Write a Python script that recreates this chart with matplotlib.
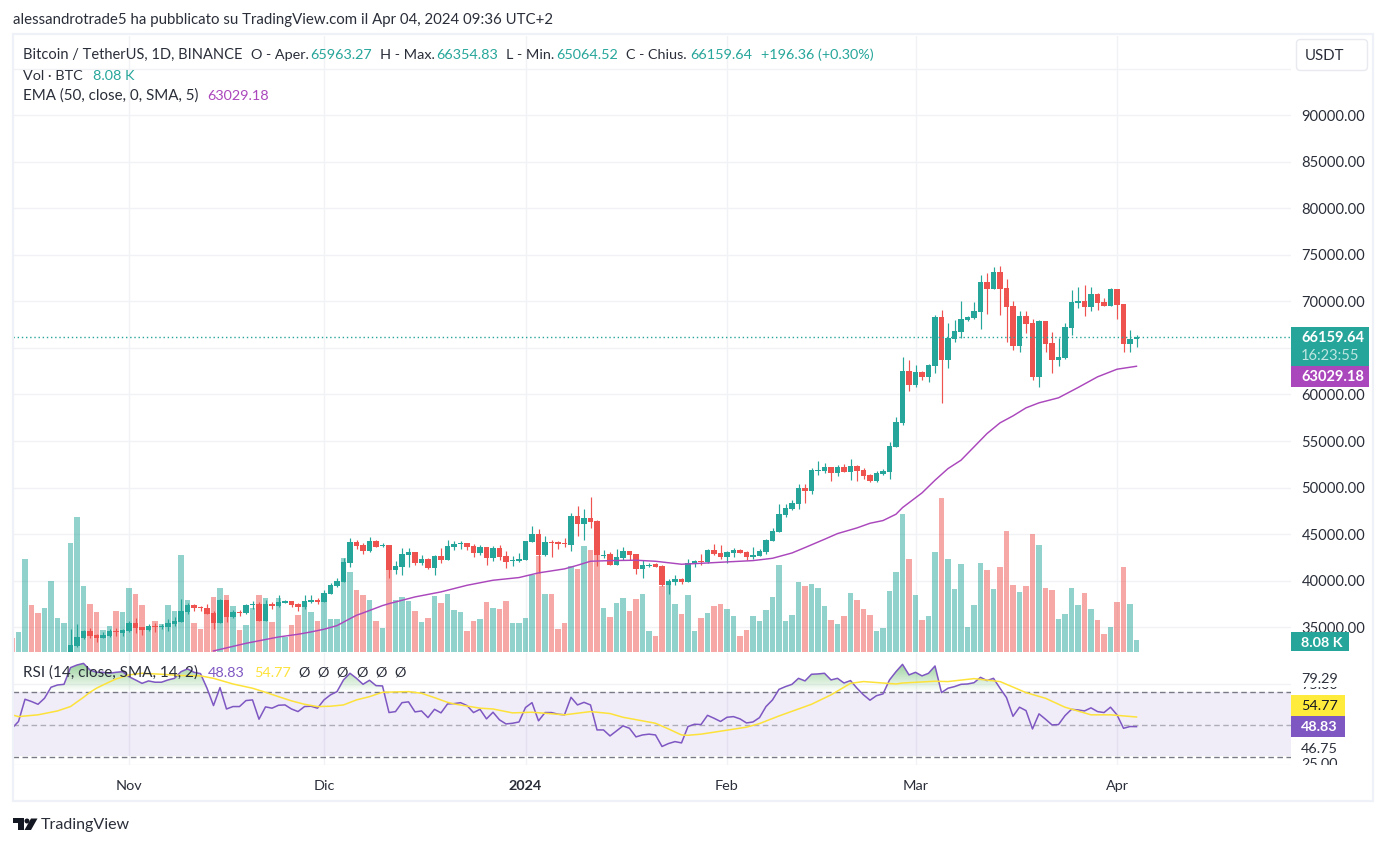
#!/usr/bin/python
import numpy as np
import matplotlib
matplotlib.use('Agg')
import matplotlib.pyplot as plt
from matplotlib.patches import Rectangle, FancyBboxPatch, Polygon
from matplotlib.path import Path

W, H = 1386, 846
plt.rcParams['font.family'] = ['Lato', 'DejaVu Sans']

# days counted from Nov 1 2023
vol_days = np.arange(-18, 156)
candle_days = np.arange(-9, 156)
month_days = [0, 30, 61, 92, 121, 152]
month_labels = ['Nov', 'Dic', '2024', 'Feb', 'Mar', 'Apr']

opens = [31810, 32960, 33820, 34570, 34140, 33820, 34030, 34610, 34360,
         34570, 35430, 35000, 34680, 35140, 35000, 35000, 35320, 35540, 36610,
         37360, 37190, 37040, 36510, 35430, 37900, 36080, 36650, 36510, 37360,
         37470, 35650, 37470, 37260, 37650, 37790, 37470, 37150, 37760, 37900,
         37690, 38550, 39410, 39840, 41880, 44130, 43810, 43170, 44240, 43740,
         43810, 41120, 41450, 42740, 43060, 41880, 42310, 41340, 42630, 42200,
         43600, 43950, 44030, 43700, 42950, 43600, 42410, 43490, 42630, 42090,
         42090, 42200, 44130, 44990, 42740, 44130, 44170, 44060, 43810, 46930,
         46070, 46710, 46390, 42700, 42840, 41660, 42410, 43170, 42840, 41230,
         41630, 41770, 41550, 39510, 39840, 40160, 39840, 41770, 42090, 41980,
         43270, 42950, 42520, 42950, 43270, 43060, 42520, 42630, 43060, 44240,
         45200, 47030, 47680, 48210, 49930, 49610, 51790, 51760, 52190, 51540,
         52190, 51650, 52300, 51870, 51330, 50680, 51440, 51650, 54340, 56910,
         62500, 61000, 62390, 61850, 63040, 68300, 63680, 65940, 66690, 67980,
         68190, 68840, 72060, 71310, 73130, 71420, 69480, 65190, 68410, 67660,
         61850, 67870, 65510, 63680, 63900, 67120, 69800, 70020, 69370, 70770,
         69910, 69480, 71310, 69700, 65400, 65963.27]
highs = [34790, 35320, 34680, 34890, 34250, 34460, 34790, 34890, 34790,
         35650, 35970, 35000, 35320, 35430, 35320, 35860, 36080, 38010, 37580,
         37470, 37260, 37470, 36720, 38010, 37900, 36830, 36830, 37470, 37790,
         37690, 37900, 37690, 38440, 37900, 37790, 37580, 38440, 38440, 38120,
         38980, 39730, 40270, 42410, 44560, 44350, 44030, 44670, 44350, 44030,
         43810, 42090, 43490, 43490, 43060, 42740, 42410, 42740, 43490, 44350,
         44240, 44240, 44030, 43920, 43810, 43600, 43700, 43810, 43170, 42630,
         42950, 44240, 45850, 45530, 44780, 44350, 44240, 44560, 47250, 48000,
         47680, 48970, 46500, 43270, 43060, 43380, 43600, 43170, 42840, 42200,
         41880, 41880, 41660, 40160, 40590, 40270, 42310, 42200, 42840, 43380,
         43920, 43810, 43160, 43490, 43380, 43160, 43590, 43380, 44450, 45630,
         48210, 48210, 48640, 50360, 50360, 52080, 52830, 52620, 52190, 52400,
         52510, 53050, 52400, 52080, 51440, 51760, 51970, 54870, 57560, 64000,
         63680, 63140, 62500, 63250, 68520, 69050, 67660, 67980, 70020, 68410,
         69910, 72810, 73030, 73670, 73780, 72380, 70020, 68950, 68950, 68090,
         67980, 67870, 66690, 66040, 67660, 71200, 71520, 71740, 71520, 70880,
         70340, 71420, 71310, 69700, 66900, 66354.83]
lows = [31640, 32850, 33710, 33820, 33390, 33820, 33930, 34030, 34030,
        34460, 34360, 34140, 34570, 34460, 34790, 34570, 35110, 35540, 36400,
        36720, 36720, 36400, 34790, 35430, 35540, 35970, 36180, 36400, 36940,
        35650, 35650, 36940, 37150, 37580, 37150, 36720, 36940, 37580, 37470,
        37690, 38550, 39300, 39840, 41450, 43380, 42840, 43060, 43600, 43600,
        40270, 40700, 40590, 41450, 41660, 41660, 41230, 40590, 41880, 42200,
        43270, 43380, 43270, 42520, 42740, 41660, 42090, 42200, 41340, 41550,
        41980, 42200, 44130, 40800, 42630, 42520, 43380, 43600, 43170, 44780,
        44350, 45640, 41550, 42410, 41660, 41660, 42200, 42200, 40700, 40270,
        41450, 41450, 39410, 38550, 39510, 39620, 39840, 41440, 41660, 41870,
        42730, 42300, 41870, 42520, 42950, 42200, 42300, 42630, 42840, 44240,
        45200, 46820, 47570, 47680, 48320, 49290, 51330, 51540, 50680, 51220,
        51650, 50790, 50680, 50910, 50580, 50580, 51330, 50900, 54340, 56700,
        60350, 60780, 61530, 61320, 62280, 59060, 62820, 65610, 66040, 67870,
        68090, 67010, 68620, 71310, 68520, 65610, 64760, 64540, 66580, 61530,
        60780, 64540, 62280, 63040, 63790, 66370, 69270, 68410, 68950, 69050,
        69480, 69480, 68090, 64540, 64540, 65064.52]
closes = [33070, 33930, 34570, 34030, 33820, 34140, 34570, 34500, 34710,
          35430, 34890, 34680, 35110, 35040, 35140, 35430, 35650, 36720, 37360,
          37040, 37040, 36400, 35430, 37900, 36080, 36610, 36540, 37360, 37470,
          35650, 37470, 37260, 37690, 37790, 37360, 37150, 37790, 37900, 37690,
          38650, 39510, 39940, 41980, 44130, 43700, 43170, 44240, 43600, 43850,
          41120, 41550, 42840, 43060, 41880, 42310, 41340, 42630, 42200, 43700,
          43920, 44030, 43600, 42950, 43600, 42410, 43490, 42520, 41980, 42230,
          42310, 44240, 44990, 42740, 44130, 44030, 43920, 43950, 46930, 46070,
          46710, 46280, 42740, 42810, 41660, 42520, 43170, 42740, 41230, 41660,
          41730, 41450, 39510, 39940, 40160, 39840, 41880, 42090, 42020, 43270,
          42840, 42520, 43060, 43270, 42950, 42520, 42730, 43160, 44350, 45310,
          47140, 47780, 48320, 49930, 49610, 51870, 51870, 52190, 51540, 52190,
          51650, 52300, 51760, 51220, 50680, 51540, 51760, 54440, 57020, 62500,
          61000, 62390, 61850, 63140, 68300, 63680, 66040, 66800, 68090, 68300,
          68950, 72060, 71310, 73130, 71310, 69370, 65190, 68410, 67550, 61850,
          67870, 65400, 63680, 64000, 67230, 69910, 70020, 69370, 70770, 69800,
          69480, 71310, 69590, 65400, 65940, 66159.64]

# volume in thousands of BTC
volumes = [9.5, 13.8, 65.8, 33.0, 27.3, 30.9, 50.1, 23.8, 20.2, 77.9, 95.8, 46.6, 33.7, 28.0, 15.2, 18.1, 28.7, 28.0,
           45.1, 40.9, 33.0, 15.9, 21.6, 19.5, 33.0, 28.7, 68.7, 36.6,
           20.2, 15.9, 28.0, 38.7, 45.1, 40.2, 32.3, 15.2, 18.8, 30.9,
           40.2, 38.0, 20.9, 38.0, 10.2, 18.8, 25.9, 31.6, 28.0, 21.6,
           36.6, 23.0, 23.0, 66.5, 56.5, 43.7, 40.2, 36.6, 21.6, 16.6,
           64.4, 36.6, 38.7, 35.9, 28.7, 20.9, 23.8, 39.4, 34.5, 40.9,
           29.5, 28.0, 14.5, 21.6, 23.0, 35.2, 30.9, 30.2, 35.9, 20.2,
           20.2, 23.8, 54.4, 68.0, 40.9, 40.9, 15.9, 20.2, 60.8, 58.7,
           75.1, 72.9, 72.2, 30.9, 24.5, 34.5, 38.0, 28.7, 37.3, 40.9,
           14.5, 10.9, 46.6, 50.1, 33.7, 26.6, 40.2, 14.5, 23.8, 27.3,
           32.3, 33.7, 30.2, 25.2, 10.9, 15.2, 25.2, 21.6, 29.5, 38.7,
           61.5, 21.6, 25.9, 49.4, 46.6, 48.0, 45.1, 32.3, 22.3, 19.5,
           25.2, 41.6, 36.6, 30.2, 25.9, 14.5, 16.6, 43.0, 56.5, 98.6,
           65.8, 40.2, 22.3, 25.2, 70.8, 110.0, 65.8, 44.4, 62.3, 17.3,
           33.0, 63.0, 58.0, 44.4, 60.1, 85.8, 47.3, 42.3, 46.6, 84.3,
           75.8, 45.1, 43.7, 23.0, 26.6, 45.1, 33.0, 41.6, 30.2, 22.3,
           12.4, 17.3, 35.2, 60.1, 33.7, 8.08]
# direction of the days whose candle is below the visible range
early_up = [False, True, True, False, False, True, True, True, True]

ema_days = [13, 18, 23, 26, 28, 30, 32, 34, 35, 36, 39, 40, 44, 48, 52, 56, 60, 63, 67, 69, 71, 74, 78, 81, 85,
            88, 92, 96, 99, 102, 104, 107, 109, 112, 114, 116, 118, 119, 122, 124, 126, 128, 130, 132, 134,
            136, 138, 140, 143, 146, 149, 152, 155]
ema = [32460, 33280, 33960, 34250, 34500, 34790, 35180, 35930, 36290, 36540, 37330, 37540, 38260, 38800, 39510,
       40050, 40340, 40840, 41270, 41660, 42090, 42160, 42200, 42090, 41770,
       41870, 42020, 42160, 42410, 42980, 43560, 44450, 45060, 45670, 46170, 46460, 47140, 47850, 49430, 50790,
       52040, 52940, 54370, 55800, 56950, 57700, 58560, 59100, 59640, 60740, 61890, 62710, 63029.18]

rsi = [47.8, 52.0, 65.7, 64.3, 62.6, 66.3, 73.1, 74.5, 74.9, 85.2, 86.8, 87.8, 83.7, 82.3, 82.3, 81.7, 82.3, 82.7,
       79.6, 77.6, 75.5, 77.0, 76.2, 76.2, 77.6, 78.6, 82.7, 84.4,
       82.3, 81.5, 72.5, 61.8, 72.9, 59.7, 61.2, 61.2, 64.9, 65.3,
       53.4, 61.0, 60.2, 62.0, 62.2, 59.7, 58.1, 61.2, 61.4, 60.2,
       65.3, 68.4, 70.4, 77.6, 81.7, 78.6, 74.9, 77.4, 74.1, 73.9,
       57.5, 58.1, 63.6, 64.1, 57.9, 58.5, 54.4, 59.5, 57.3, 62.8,
       63.0, 63.6, 61.8, 57.5, 59.5, 53.6, 57.7, 53.0, 50.5, 50.9,
       51.7, 60.6, 63.6, 52.4, 57.5, 57.5, 56.5, 56.1, 66.9, 62.2,
       63.8, 62.2, 46.8, 46.8, 43.1, 46.2, 49.3, 47.8, 42.5, 43.7,
       44.2, 43.7, 36.6, 38.4, 39.6, 38.8, 48.9, 50.3, 50.1, 55.8,
       54.0, 52.0, 54.6, 55.0, 53.6, 51.1, 51.7, 54.4, 61.2, 65.3,
       71.8, 73.5, 74.9, 78.6, 77.0, 81.1, 81.3, 81.7, 77.6, 78.6,
       75.7, 77.2, 72.5, 68.4, 65.1, 67.9, 69.0, 77.6, 82.7, 87.2,
       80.7, 82.3, 80.1, 81.7, 86.2, 69.8, 72.5, 73.5, 74.9, 75.1,
       75.9, 79.2, 77.2, 78.6, 72.5, 66.7, 55.2, 60.8, 58.7, 47.4,
       56.7, 53.4, 49.9, 50.1, 55.6, 59.5, 59.1, 58.5, 60.4, 58.1,
       57.5, 60.8, 56.1, 47.8, 48.9, 48.83]

rsi_ma_days = [-18, -17, -14, -11, -9, -7, -6, -5, -4, -2, 0, 2, 5, 8, 11, 13, 16, 19, 21, 23, 25, 27, 29, 31, 33,
               35, 37, 39, 43, 45, 47, 49, 50, 54, 56, 59, 62, 67, 71, 74, 76, 81, 83, 85, 86, 88, 90, 95, 97,
               100, 105, 108, 111, 113, 118, 119, 124, 126, 130, 134, 138, 141, 144, 148, 151, 155]
rsi_ma = [56.1, 55.0, 56.1, 58.5, 61.2, 66.9, 70.0, 72.5, 74.5, 78.2, 80.7, 81.7, 81.1, 80.3, 80.1, 78.6, 75.1, 72.5,
          70.0, 67.3, 64.7, 62.6, 61.2, 61.4, 62.2, 65.3, 67.3, 70.0, 70.4, 69.4, 66.7, 63.8, 62.8, 60.2, 59.7,
          57.3, 57.7, 56.1, 58.1, 56.9, 54.6, 50.9, 47.4, 43.7, 43.5, 44.2, 45.4, 48.5, 50.7, 55.4, 62.6, 68.4,
          75.5, 76.6, 75.1, 75.7, 76.8, 76.6, 78.4, 76.6, 69.8, 66.3, 60.8, 56.1, 56.1, 54.77]

price_ticks = list(range(35000, 100000, 5000))
# 65000 sits behind the last price badge and 95000 has no label
hidden_ticks = (65000, 95000)

UP = '#26a69a'
DOWN = '#ef5350'
GRID = '#f1f2f5'
TXT = '#2a2e39'
FS = 10.4


def box(x0, y0, x1, y1):
    return [x0 / W, 1 - y1 / H, (x1 - x0) / W, (y1 - y0) / H]


# x pixel = 129 + 6.5 * day, so these limits line the months up
xlim = ((13 - 129) / 6.5, (1291 - 129) / 6.5)
fig = plt.figure(figsize=(W / 100, H / 100), dpi=100, facecolor='white')
main_box = box(13, 36, 1291, 651.5)

# Price pane: grid at the bottom, then volume, then the candles
ax = fig.add_axes(main_box, zorder=1)
ax.set_xlim(*xlim)
ax.set_ylim(32400, 98490)
ax.set_xticks(month_days)
ax.set_yticks(price_ticks)
ax.set_yticklabels(['' if p in hidden_ticks else '%d.00' % p for p in price_ticks], color=TXT, fontsize=FS + 0.2)
ax.yaxis.tick_right()
ax.tick_params(axis='both', length=0, labelbottom=False, pad=7.5)
ax.grid(True, color=GRID, linewidth=1)
ax.set_axisbelow(True)
for s in ax.spines.values():
    s.set_visible(False)

vup = np.array(early_up + [c >= o for o, c in zip(opens, closes)])
ax_vol = fig.add_axes(main_box, zorder=2, sharex=ax, facecolor='none')
ax_vol.bar(vol_days, volumes, width=0.8, color=np.where(vup, UP, DOWN), alpha=0.5, linewidth=0)
ax_vol.set_ylim(0, 440)
ax_vol.axis('off')

ax_px = fig.add_axes(main_box, zorder=3, sharex=ax, sharey=ax, facecolor='none')
o = np.array(opens)
c = np.array(closes)
colors = np.where(c >= o, UP, DOWN)
ax_px.vlines(candle_days, lows, highs, colors=colors, linewidth=0.85)
ax_px.bar(candle_days, np.abs(c - o), bottom=np.minimum(o, c), width=0.78, color=colors, linewidth=0)
ax_px.plot(ema_days, ema, color='#ab47bc', linewidth=1.05, solid_joinstyle='round')
ax_px.axhline(closes[-1], color=UP, linewidth=1, linestyle=(0, (1, 2)))
ax_px.axis('off')
ax_px.set_xlim(*xlim)
ax_px.set_ylim(32400, 98490)

# RSI pane
ax_rsi = fig.add_axes(box(13, 653, 1291, 765.3), zorder=1, sharex=ax)
ax_rsi.set_ylim(25.0, 94.2)
ax_rsi.axhspan(30.6, 70, color='#7e57c2', alpha=0.11, linewidth=0)
for level, a in ((70, 1), (50, 0.55), (30, 1)):
    ax_rsi.axhline(level, color='#787b86', alpha=a, linewidth=1, linestyle=(0, (4, 2.5)))
ax_rsi.set_xticks(month_days)
ax_rsi.set_xticklabels(month_labels, color=TXT, fontsize=FS)
ax_rsi.get_xticklabels()[2].set_fontweight('bold')
ax_rsi.set_yticks([25, 75])
ax_rsi.set_yticklabels([])
ax_rsi.tick_params(axis='both', length=0, pad=10.5)
ax_rsi.grid(True, color=GRID, linewidth=1)
ax_rsi.set_axisbelow(True)
for s in ax_rsi.spines.values():
    s.set_visible(False)

# green gradient on the part of the RSI above 70
rsi_arr = np.array(rsi)
over = ax_rsi.fill_between(vol_days, rsi_arr, 70, where=rsi_arr >= 70, interpolate=True, color='none')
grad = np.zeros((64, 1, 4))
grad[:, :, 0:3] = matplotlib.colors.to_rgb('#4caf50')
grad[:, :, 3] = np.linspace(0, 0.65, 64)[:, None]
im = ax_rsi.imshow(grad, origin='lower', aspect='auto', extent=(xlim[0], xlim[1], 70, 90), zorder=1)
im.set_clip_path(Path.make_compound_path(*over.get_paths()), ax_rsi.transData)
ax_rsi.plot(vol_days, rsi, color='#7e57c2', linewidth=1.1, zorder=3)
ax_rsi.plot(rsi_ma_days, rsi_ma, color='#fde23a', linewidth=1.1, zorder=3)
ax_rsi.set_xlim(*xlim)
ax_rsi.set_ylim(25.0, 94.2)

# Overlay in pixel units for frame, legends and the scale badges
ov = fig.add_axes([0, 0, 1, 1], zorder=10, facecolor='none')
ov.set_xlim(0, W)
ov.set_ylim(H, 0)
ov.axis('off')


def label(x, y, s, color=TXT, ha='left', z=5, **kw):
    ov.text(x, y + 0.7, s, color=color, ha=ha, va='center', zorder=z, fontsize=kw.pop('fontsize', FS), **kw)


def badge(x0, y0, x1, y1, color, z=4):
    ov.add_patch(Rectangle((x0, y0), x1 - x0, y1 - y0, facecolor=color, edgecolor='none', zorder=z))


ov.add_patch(Rectangle((12.5, 34.5), 1360.5, 767, facecolor='none', edgecolor='#eff1f8', linewidth=1.6))
label(13, 19, 'alessandrotrade5 ha pubblicato su TradingView.com il Apr 04, 2024 09:36 UTC+2', fontsize=10.8)

label(23, 54, 'Bitcoin / TetherUS, 1D, BINANCE', fontsize=10.5)
for x, s in ((251, 'O - Aper.'), (380, 'H - Max.'), (506, 'L - Min.'), (626, 'C - Chius.')):
    label(x, 54, s)
for x, s in ((310, '65963.27'), (436, '66354.83'), (556, '65064.52'), (690.5, '66159.64'), (761, '+196.36 (+0.30%)')):
    label(x, 54, s, color=UP)
label(23, 75, 'Vol · BTC')
label(93, 75, '8.08 K', color=UP)
label(23, 95, 'EMA (50, close, 0, SMA, 5)', fontsize=10.9)
label(207, 95, '63029.18', color='#ab47bc')

label(23, 672, 'RSI (14, close, SMA, 14, 2)', fontsize=11)
label(208, 672, '48.83', color='#7e57c2')
label(254, 672, '54.77', color='#fde23a')
for x in (298, 317, 336, 356, 375, 394):
    label(x, 672, 'Ø')

# USDT button
ov.add_patch(FancyBboxPatch((1296.5, 39.5), 71, 31, boxstyle='round,pad=0,rounding_size=4',
                            facecolor='white', edgecolor='#e8eaf0', linewidth=1))
label(1325, 55, 'USDT', ha='center', fontsize=FS + 0.4)

# price scale badges
badge(1291, 327, 1369, 366, UP)
label(1301, 337.5, '66159.64', color='white', fontweight='bold', fontsize=10.5)
label(1301, 355.5, '16:23:55', color='#bfe6e2', fontsize=10.5)
badge(1291, 366, 1369, 387, '#ab47bc')
label(1301, 376.5, '63029.18', color='white', fontweight='bold', fontsize=10.5)
badge(1291, 632, 1349, 651.5, UP)
label(1301, 642, '8.08 K', color='white', fontweight='bold')

# RSI scale, with the 75.00 and 25.00 labels half hidden as in the scale
label(1301, 684, '75.00', z=3)
badge(1292, 668, 1370, 687.5, 'white')
label(1301, 678, '79.29')
label(1301, 763, '25.00', z=3)
badge(1292, 765.5, 1370, 772, 'white')
badge(1292, 738, 1370, 758, 'white')
label(1301, 748, '46.75')
badge(1291, 695, 1345, 716, '#ffeb3b')
label(1301, 705.5, '54.77', color='#131722')
badge(1291, 716, 1345, 737, '#7e57c2')
label(1301, 726.5, '48.83', color='white', fontweight='bold')

# TradingView logo and name
ov.add_patch(Polygon([(12.5, 818.5), (23.5, 818.5), (23.5, 830), (17.5, 830), (17.5, 823), (12.5, 823)], facecolor='#131722'))
ov.add_patch(Polygon([(31, 818.5), (37.5, 818.5), (31, 830), (24.5, 830)], facecolor='#131722'))
ov.add_patch(plt.Circle((27, 821), 2.5, facecolor='#131722'))
label(41, 824.5, 'TradingView', color='#2a2e39', fontsize=11.5)

fig.savefig('out.png', dpi=100)
